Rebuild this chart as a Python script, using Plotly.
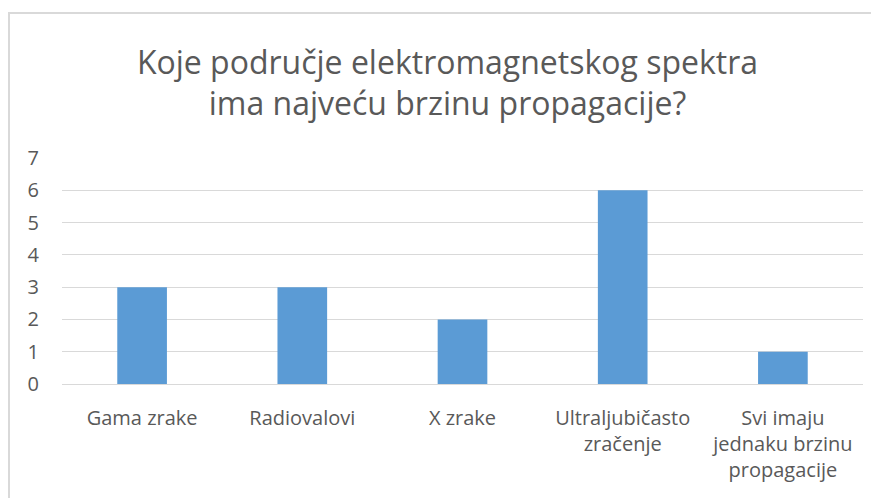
import plotly.graph_objects as go

categories = ["Gama zrake", "Radiovalovi", "X zrake", "Ultraljubičasto<br>zračenje",
              "Svi imaju<br>jednaku brzinu<br>propagacije"]
counts = [3, 3, 2, 6, 1]
y_ticks = [0, 1, 2, 3, 4, 5, 6, 7]

grey = "#595959"

fig = go.Figure()
fig.add_trace(go.Bar(x=categories, y=counts, marker=dict(color="#5B9BD5", line=dict(width=0))))

# page has an 8px body margin, so plot box is placed 8px up/left
fig.update_layout(
    width=879, height=498,
    margin=dict(l=54, r=24, t=150, b=122),
    paper_bgcolor="white", plot_bgcolor="white",
    font=dict(family="Open Sans", color=grey, size=20),
    bargap=0.69,
    showlegend=False,
    title=dict(text="Koje područje elektromagnetskog spektra<br>ima najveću brzinu propagacije?",
               x=0.5, xanchor="center", y=0.868, yanchor="middle",
               font=dict(family="Open Sans", size=32, color=grey)),
)
fig.update_yaxes(range=[0, 7], tickvals=y_ticks, showgrid=True, gridcolor="#d9d9d9", gridwidth=1,
                 zeroline=False, showline=False, ticklabelstandoff=22, tickfont=dict(size=20))
fig.update_xaxes(showline=True, linecolor="#d9d9d9", linewidth=1, ticks="",
                 ticklabelstandoff=16, tickfont=dict(size=20))

# outer chart border: only top and left edges are in view
bx0 = (1 - 54) / 801
by1 = 1 + (150 - 5) / 226
fig.add_shape(type="path", xref="paper", yref="paper",
              path=f"M {bx0},-0.8 L {bx0},{by1} L 1.2,{by1}",
              line=dict(color="#d9d9d9", width=2), layer="below")

fig.write_html("out.html")
